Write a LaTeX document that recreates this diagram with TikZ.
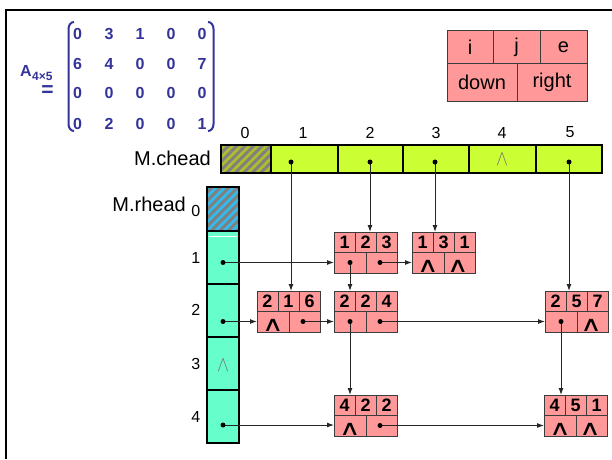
\documentclass[tikz,border=0pt]{standalone}
\usepackage{fontspec}
\setmainfont{Liberation Sans}
\newfontfamily\symfont{DejaVu Sans}
\usetikzlibrary{arrows.meta,patterns.meta}

\definecolor{matblue}{RGB}{51,51,153}
\definecolor{nodepink}{RGB}{255,153,153}
\definecolor{cheadgreen}{RGB}{204,255,51}
\definecolor{rheadcyan}{RGB}{102,255,204}
\definecolor{hatchblue}{RGB}{51,187,238}
\definecolor{hatcholive}{RGB}{175,190,45}
\definecolor{edgegray}{RGB}{60,60,60}

% null pointer marks
\newcommand\nilsym{\scalebox{1.4}[1]{\symfont\fontsize{21}{21}\selectfont ∧}}
\newcommand\nilthin{\scalebox{1.8}[2.2]{$\wedge$}}

\tikzset{
  tbox/.style={draw=edgegray, line width=1pt, fill=nodepink,
    minimum width=63pt, minimum height=41pt, inner sep=0pt, outer sep=0pt},
  tsep/.style={draw=edgegray, line width=1pt},
  tdig/.style={font=\bfseries\fontsize{18}{18}\selectfont, inner sep=0pt},
  nilmark/.style={inner sep=0pt},
  nilgray/.style={text=gray!90!black, inner sep=0pt},
  headcell/.style={draw=black, line width=2.5pt, inner sep=0pt, outer sep=0pt, anchor=north west},
  chcell/.style={headcell, fill=cheadgreen, minimum height=28pt},
  rhcell/.style={headcell, fill=rheadcyan, minimum width=32pt},
  hatched/.style={fill=#1,
    postaction={pattern={Lines[angle=45,distance=6pt,line width=3pt]}, pattern color=gray},
    postaction={draw=black, line width=2.5pt}},
  ptr/.style={draw=black!85, line width=1pt, -{Latex[length=7pt,width=5pt]}},
  ptrdot/.style={fill=black},
  lbl/.style={font=\fontsize{16}{16}\selectfont, inner sep=0pt},
  biglbl/.style={font=\fontsize{20}{20}\selectfont, inner sep=0pt},
  legtext/.style={font=\fontsize{20}{20}\selectfont, inner sep=0pt},
  legcell/.style={draw=edgegray, line width=1pt, fill=nodepink},
  matnum/.style={font=\bfseries\fontsize{16}{16}\selectfont, text=matblue, inner sep=0pt},
  matbr/.style={draw=matblue, line width=2pt},
}

% one element of the orthogonal list: row i, column j, value e, down and right pointers
\newcommand\listnode[6]{%
  \node[tbox, anchor=north west] (#1) at (#2,#3) {};
  \draw[tsep] (#2,#3+20) -- ++(63,0)
              (#2+21,#3) -- ++(0,20)
              (#2+42,#3) -- ++(0,20)
              (#2+32,#3+20) -- ++(0,21);
  \node[tdig] (#1-i) at (#2+10.5,#3+10.5) {#4};
  \node[tdig] (#1-j) at (#2+31.5,#3+10.5) {#5};
  \node[tdig] (#1-e) at (#2+52.5,#3+10.5) {#6};
  \coordinate (#1-d) at (#2+16,#3+30.5);
  \coordinate (#1-r) at (#2+46,#3+30.5);
}

\begin{document}
\begin{tikzpicture}[x=1pt, y=-1pt]
\useasboundingbox (0,0) rectangle (612,459);
\fill[white] (0,0) rectangle (612,459);

% frame
\draw[line width=2.3pt] (6,459) -- (6,10) -- (612,10);

% sparse matrix
\node[matnum, font=\bfseries\fontsize{16}{16}\selectfont, anchor=base west] (mA) at (20,76) {A};
\node[matnum, font=\bfseries\fontsize{12}{12}\selectfont, anchor=base west] (msub) at ([yshift=-4pt]mA.base east) {4×5};
\node[matnum, font=\bfseries\fontsize{21}{21}\selectfont] (meq) at (47.5,91) {=};
\foreach \r/\y/\vals in {1/33.5/{0,3,1,0,0}, 2/64/{6,4,0,0,7}, 3/93/{0,0,0,0,0}, 4/124/{0,2,0,0,1}} {
  \foreach \v [count=\c] in \vals {
    \pgfmathsetmacro\xx{{77.5,109,140,171,202}[\c-1]}
    \node[matnum] (m\r\c) at (\xx,\y) {\v};
  }
}
\draw[matbr] (74,22) to[out=180,in=90] (68.5,29) -- (68.5,124) to[out=-90,in=180] (74,131);
\draw[matbr] (208,22) to[out=0,in=90] (213.5,29) -- (213.5,124) to[out=-90,in=0] (208,131);

% legend of a list element
\draw[legcell] (447,30) rectangle (587,101);
\draw[tsep] (447,63) -- (587,63) (493,30) -- (493,63) (540,30) -- (540,63) (517,63) -- (517,101);
\node[legtext] (li) at (470,47) {i};
\node[legtext] (lj) at (516.5,47) {j};
\node[legtext] (le) at (563.5,47) {e};
\node[legtext] (ld) at (482,82) {down};
\node[legtext] (lr) at (552,82) {right};

% column heads
\node[biglbl, anchor=base east] (chname) at (211,165) {M.chead};
\node[chcell, hatched=hatcholive, minimum width=50pt] (ch0) at (221,145) {};
\node[chcell, minimum width=67pt] (ch1) at (271,145) {};
\node[chcell, minimum width=65pt] (ch2) at (338,145) {};
\node[chcell, minimum width=66pt] (ch3) at (403,145) {};
\node[chcell, minimum width=67pt] (ch4) at (469,145) {};
\node[chcell, minimum width=66pt] (ch5) at (536,145) {};
\foreach \n/\x in {0/245,1/303,2/370,3/436,4/502,5/570}
  \node[lbl] (cl\n) at (\x,132.5) {\n};
\node[nilgray] (ch4nil) at (502,159.5) {\nilthin};
\coordinate (c1) at (291,162);
\coordinate (c2) at (370,162);
\coordinate (c3) at (435,162);
\coordinate (c5) at (569,162);

% row heads
\node[biglbl, anchor=base east] (rhname) at (186,211) {M.rhead};
\node[rhcell, hatched=hatchblue, minimum height=44pt] (rh0) at (207,187) {};
\node[rhcell, minimum height=53pt] (rh1) at (207,231) {};
\node[rhcell, minimum height=53pt] (rh2) at (207,284) {};
\node[rhcell, minimum height=54pt] (rh3) at (207,337) {};
\node[rhcell, minimum height=53pt] (rh4) at (207,390) {};
\draw[white, line width=1pt] (209,236.5) -- (237,236.5);
\foreach \n/\y in {0/211,1/258,2/310,3/364,4/417}
  \node[lbl, anchor=east] (rl\n) at (200.5,\y) {\n};
\node[nilgray] (rh3nil) at (223,365) {\nilthin};
\coordinate (r1) at (223,262.5);
\coordinate (r2) at (223,321.5);
\coordinate (r4) at (223,425);

% list elements
\listnode{n123}{334}{232}{1}{2}{3}
\listnode{n131}{412}{232}{1}{3}{1}
\listnode{n216}{257}{291}{2}{1}{6}
\listnode{n224}{334}{291}{2}{2}{4}
\listnode{n257}{545}{291}{2}{5}{7}
\listnode{n422}{334}{395}{4}{2}{2}
\listnode{n451}{544}{395}{4}{5}{1}

% null pointers
\foreach \c in {n131-d,n131-r,n216-d,n257-r,n422-d,n451-d,n451-r}
  \node[nilmark] at ([yshift=-3.5pt]\c) {\nilsym};

% pointers
\draw[ptr] (c1) -- (c1 |- n216.north);
\draw[ptr] (c2) -- (c2 |- n123.north);
\draw[ptr] (c3) -- (c3 |- n131.north);
\draw[ptr] (c5) -- (c5 |- n257.north);
\draw[ptr] (r1) -- (r1 -| n123.west);
\draw[ptr] (r2) -- (r2 -| n216.west);
\draw[ptr] (r4) -- (r4 -| n422.west);
\draw[ptr] (n123-r) -- (n123-r -| n131.west);
\draw[ptr] (n123-d) -- (n123-d |- n224.north);
\draw[ptr] (n216-r) -- (n216-r -| n224.west);
\draw[ptr] (n224-r) -- (n224-r -| n257.west);
\draw[ptr] (n224-d) -- (n224-d |- n422.north);
\draw[ptr] (n257-d) -- (n257-d |- n451.north);
\draw[ptr] (n422-r) -- (n422-r -| n451.west);

\foreach \c in {c1,c2,c3,c5,r1,r2,r4,n123-d,n123-r,n216-r,n224-d,n224-r,n257-d,n422-r}
  \fill[ptrdot] (\c) circle (2.5);
\end{tikzpicture}
\end{document}
